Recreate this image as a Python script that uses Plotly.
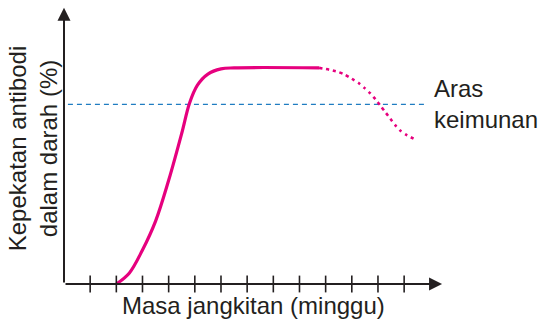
import plotly.graph_objects as go

# Antibody concentration over the course of an infection (weeks)
rise_weeks = [2.0, 2.5, 3.0, 3.5, 4.0, 4.5, 4.8, 5.1, 5.5, 6.0, 6.5, 9.75]
rise_level = [0, 4.1, 12.6, 23.3, 38.4, 55.8, 67, 73.6, 77.7, 79.6, 80, 80]

fall_weeks = [9.75, 10.15, 10.47, 10.73, 11.0, 11.26, 11.49, 11.71, 11.91, 12.1,
              12.29, 12.47, 12.66, 12.86, 13.1, 13.36]
fall_level = [80, 79.3, 78.5, 77.5, 76, 74.4, 72.5, 70.5, 68.3, 65.9,
              63.5, 61.2, 58.8, 56.7, 55.1, 53.8]

immunity_level = 66.5
tick_weeks = list(range(1, 14))

x_title = "Masa jangkitan (minggu)"
y_title_lines = ["Kepekatan antibodi", "dalam darah (%)"]
threshold_label = "Aras<br>keimunan"

PINK = "#e6007e"
BLUE = "#1f7cc1"
INK = "#231f20"
FONT = "Liberation Sans, Arial, sans-serif"

x_max, y_max = 14.6, 104

fig = go.Figure()

# immunity threshold
fig.add_trace(go.Scatter(
    x=[0.15, 13.9], y=[immunity_level, immunity_level], mode="lines",
    line=dict(color=BLUE, width=1.2, dash="5px,4px"), hoverinfo="skip"))

# rising phase and plateau
fig.add_trace(go.Scatter(
    x=rise_weeks, y=rise_level, mode="lines",
    line=dict(color=PINK, width=3.2, shape="spline", smoothing=1.0),
    hoverinfo="skip"))

# predicted decline
fig.add_trace(go.Scatter(
    x=fall_weeks, y=fall_level, mode="lines",
    line=dict(color=PINK, width=2.6, dash="3px,4px", shape="spline", smoothing=0.6),
    hoverinfo="skip"))

# tick marks crossing the time axis
fig.add_trace(go.Scatter(
    x=tick_weeks, y=[0] * len(tick_weeks), mode="markers", cliponaxis=False,
    marker=dict(symbol="line-ns", size=12, line=dict(color=INK, width=1.6)),
    hoverinfo="skip"))

annotations = [
    # axis arrows
    dict(x=14.45, y=0, ax=0, ay=0, xref="x", yref="y", axref="x", ayref="y",
         text="", showarrow=True, arrowhead=2, arrowsize=1.3, arrowwidth=2,
         arrowcolor=INK),
    dict(x=0, y=102.2, ax=0, ay=0, xref="x", yref="y", axref="x", ayref="y",
         text="", showarrow=True, arrowhead=2, arrowsize=1.3, arrowwidth=2,
         arrowcolor=INK),
    dict(x=14.07, y=immunity_level, xref="x", yref="y", text=threshold_label,
         showarrow=False, xanchor="left", yanchor="middle", align="left",
         font=dict(family=FONT, size=24, color=INK)),
    dict(x=0.496, y=-0.022, xref="paper", yref="paper", text=x_title,
         showarrow=False, xanchor="center", yanchor="top",
         font=dict(family=FONT, size=24, color=INK)),
    dict(x=-0.082, y=0.482, xref="paper", yref="paper",
         text="<br>".join(y_title_lines),
         showarrow=False, textangle=-90, xanchor="center", yanchor="middle",
         font=dict(family=FONT, size=24, color=INK)),
]

fig.update_layout(
    width=539, height=323,
    margin=dict(l=64, r=93, t=3, b=39),
    paper_bgcolor="white", plot_bgcolor="white",
    showlegend=False,
    xaxis=dict(range=[0, x_max], visible=False, fixedrange=True),
    yaxis=dict(range=[0, y_max], visible=False, fixedrange=True),
    annotations=annotations,
)

fig.write_html("out.html", config={"displayModeBar": False})
